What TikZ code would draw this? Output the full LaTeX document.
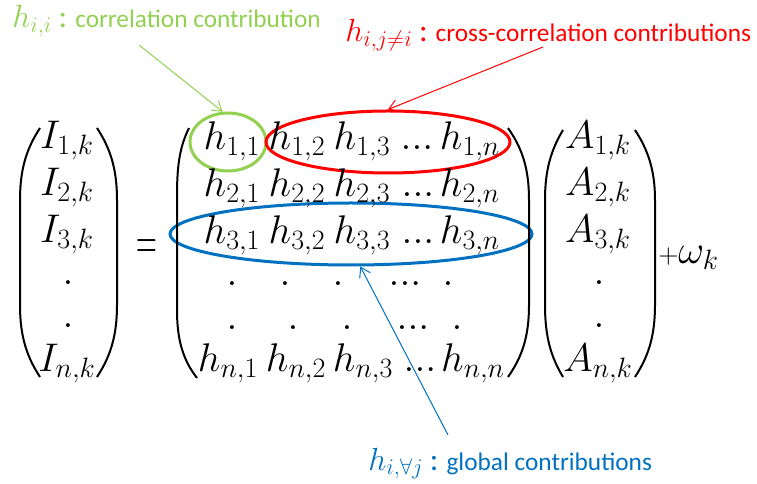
\RequirePackage{fix-cm}
\documentclass[tikz,border=0pt]{standalone}
\usepackage{amsmath,amssymb}
\usepackage{graphicx}
\usepackage{fontspec}
\newfontfamily\calfont{Carlito}
\usetikzlibrary{shapes.geometric,arrows.meta}
\definecolor{grn}{RGB}{146,208,80}
\definecolor{rd}{RGB}{255,0,0}
\definecolor{blu}{RGB}{0,112,192}
\tikzset{
  ent/.style={inner sep=0pt,anchor=base,font=\fontsize{30}{34}\selectfont},
  dt/.style={inner sep=0pt,font=\fontsize{30}{34}\selectfont},
  lbl/.style={inner sep=0pt,anchor=base west,font=\fontsize{19}{23}\selectfont\calfont},
  ring/.style={ellipse,draw,line width=2.25pt,inner sep=0pt},
  paren/.style={line width=1.5pt},
  ptr/.style={line width=0.75pt,-{Straight Barb[length=7pt,width=9pt]}}
}
\newcommand{\hd}[1]{{\fontsize{24}{28}\selectfont$#1$\hspace{5pt}:\hspace{6pt}}}

\begin{document}
\begin{tikzpicture}[x=0.75pt,y=-0.75pt]
\useasboundingbox (0,0) rectangle (757,484);
% rings behind the entries
\node[ring,draw=grn,minimum width=57pt,minimum height=43.5pt] (diag) at (228,142) {};
\node[ring,draw=rd,minimum width=183pt,minimum height=46.5pt] (cross) at (388,142) {};
\node[ring,draw=blu,minimum width=271.5pt,minimum height=46.5pt] (glob) at (351,234) {};
% left vector
\node[ent] (i1) at (67,149) {$I_{1,k}$};
\node[ent] (i2) at (67,196) {$I_{2,k}$};
\node[ent] (i3) at (67,243) {$I_{3,k}$};
\node[dt] (i4) at (68,283) {$.$};
\node[dt] (i5) at (68,326) {$.$};
\node[ent] (in) at (67,372) {$I_{n,k}$};
\draw[paren] (40,128) .. controls (27,148) and (20,168) .. (20,200) -- (20,305) .. controls (20,337) and (27,357) .. (40,377);
\draw[paren] (97,128) .. controls (110,148) and (117,168) .. (117,200) -- (117,305) .. controls (117,337) and (110,357) .. (97,377);
\node[dt] (eq) at (147,250) {\scalebox{0.72}[1.4]{$=$}};
% matrix
\node[ent] (h11) at (232,150) {$h_{1,1}$};
\node[ent] (h12) at (297,150) {$h_{1,2}$};
\node[ent] (h13) at (362,150) {$h_{1,3}$};
\node[ent] (h1d) at (417,150) {$...$};
\node[ent] (h1n) at (470,150) {$h_{1,n}$};
\node[ent] (h21) at (232,197) {$h_{2,1}$};
\node[ent] (h22) at (297,197) {$h_{2,2}$};
\node[ent] (h23) at (362,197) {$h_{2,3}$};
\node[ent] (h2d) at (418,197) {$...$};
\node[ent] (h2n) at (470,197) {$h_{2,n}$};
\node[ent] (h31) at (232,244) {$h_{3,1}$};
\node[ent] (h32) at (297,244) {$h_{3,2}$};
\node[ent] (h33) at (362,244) {$h_{3,3}$};
\node[ent] (h3d) at (418,244) {$...$};
\node[ent] (h3n) at (470,244) {$h_{3,n}$};
\node[dt] (d41) at (232,284) {$.$};
\node[dt] (d42) at (285,284) {$.$};
\node[dt] (d43) at (338,284) {$.$};
\node[dt] (d4d) at (405,284) {$...$};
\node[dt] (d4n) at (448,284) {$.$};
\node[dt] (d51) at (232,328) {$.$};
\node[dt] (d52) at (293,328) {$.$};
\node[dt] (d53) at (347,328) {$.$};
\node[dt] (d5d) at (413,328) {$...$};
\node[dt] (d5n) at (457,328) {$.$};
\node[ent] (hn1) at (228,372) {$h_{n,1}$};
\node[ent] (hn2) at (296,372) {$h_{n,2}$};
\node[ent] (hn3) at (363,372) {$h_{n,3}$};
\node[ent] (hnd) at (420,372) {$...$};
\node[ent] (hnn) at (473,372) {$h_{n,n}$};
\draw[paren] (189,128) .. controls (180,146) and (177,165) .. (177,195) -- (177,310) .. controls (177,340) and (183,360) .. (197,378);
\draw[paren] (508,128) .. controls (522,148) and (529,168) .. (529,200) -- (529,305) .. controls (529,337) and (522,357) .. (508,377);
% right vector
\node[ent] (a1) at (598,149) {$A_{1,k}$};
\node[ent] (a2) at (598,196) {$A_{2,k}$};
\node[ent] (a3) at (598,243) {$A_{3,k}$};
\node[dt] (a4) at (599,283) {$.$};
\node[dt] (a5) at (599,326) {$.$};
\node[ent] (an) at (598,372) {$A_{n,k}$};
\draw[paren] (563,130) .. controls (551,150) and (545,170) .. (545,200) -- (545,305) .. controls (545,337) and (551,357) .. (563,377);
\draw[paren] (635,130) .. controls (648,150) and (655,170) .. (655,200) -- (655,305) .. controls (655,337) and (648,357) .. (635,377);
\node[ent,anchor=base west] (noise) at (658,264) {$\scriptstyle+\textstyle\omega_k$};
% labels and pointers
\node[lbl,text=grn] (glbl) at (12,28) {\hd{h_{i,i}}correlation contribution};
\node[lbl,text=rd] (rlbl) at (345,42) {\hd{h_{i,j\neq i}}cross-correlation contributions};
\node[lbl,text=blu] (blbl) at (368,470) {\hd{h_{i,\forall j}}global contributions};
\coordinate (gtail) at (139,45);
\coordinate (rtail) at (543,47);
\coordinate (btail) at (448,435);
\draw[ptr,grn] (gtail) -- (diag.100);
\draw[ptr,rd] (rtail) -- (cross.north);
\draw[ptr,blu] (btail) -- (glob.-74);
\end{tikzpicture}
\end{document}
